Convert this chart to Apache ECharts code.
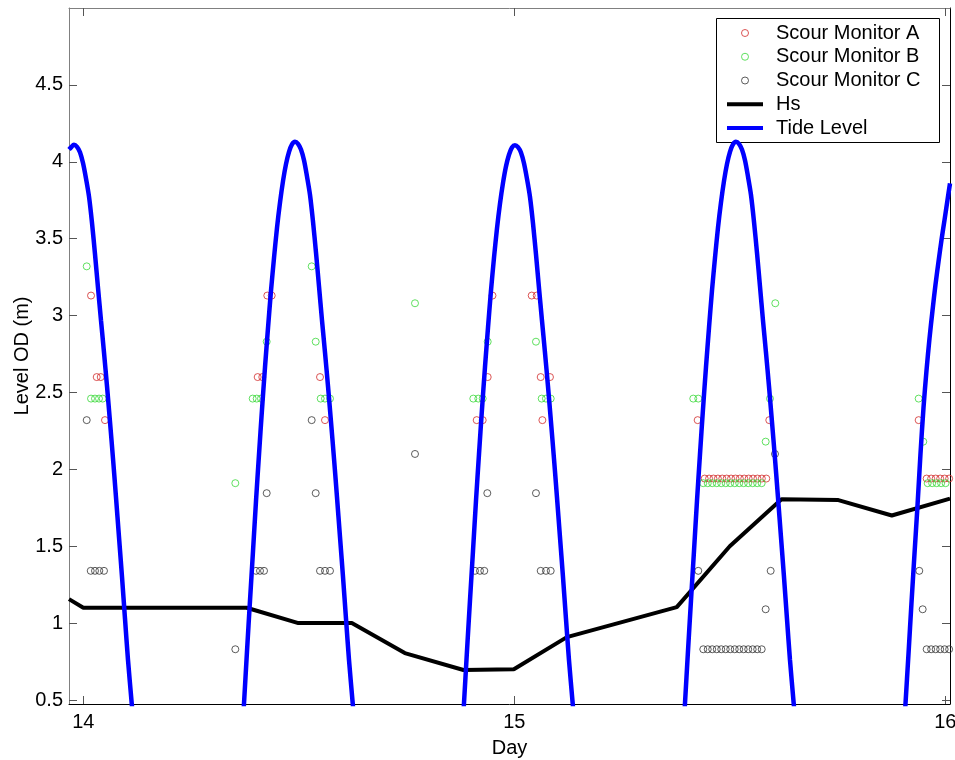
<!DOCTYPE html>
<html><head><meta charset="utf-8">
<script src="https://cdn.jsdelivr.net/npm/echarts@6/dist/echarts.min.js"></script>
<style>html,body{margin:0;padding:0;background:#fff}#c{width:955px;height:760px}</style>
</head><body><div id="c"></div>
<script>
const xTicks = [14, 15, 16];
const yTicks = [0.5, 1, 1.5, 2, 2.5, 3, 3.5, 4, 4.5];
const legendNames = ['Scour Monitor A', 'Scour Monitor B', 'Scour Monitor C', 'Hs', 'Tide Level'];

const monitorA = [
  [14.0179,3.13],[14.0311,2.60],[14.0404,2.60],[14.0503,2.32],
  [14.4046,2.60],[14.4153,2.60],[14.4269,3.13],[14.4371,3.13],[14.5492,2.60],[14.5608,2.32],
  [14.9128,2.32],[14.9267,2.32],[14.9383,2.60],[14.9494,3.13],[15.0404,3.13],[15.0520,3.13],
  [15.0613,2.60],[15.0828,2.60],[15.0652,2.32],
  [15.4255,2.32],[15.5917,2.32],
  [15.4418,1.94],[15.4520,1.94],[15.4622,1.94],[15.4724,1.94],[15.4826,1.94],[15.4928,1.94],
  [15.5030,1.94],[15.5132,1.94],[15.5234,1.94],[15.5336,1.94],[15.5438,1.94],[15.5540,1.94],
  [15.5642,1.94],[15.5744,1.94],[15.5847,1.94],
  [15.9383,2.32],
  [15.9568,1.94],[15.9673,1.94],[15.9777,1.94],[15.9882,1.94],[15.9986,1.94],[16.0090,1.94]
];
const monitorB = [
  [14.0079,3.32],[14.0179,2.46],[14.0271,2.46],[14.0364,2.46],[14.0450,2.46],
  [14.3527,1.91],[14.3930,2.46],[14.4023,2.46],[14.4123,2.46],[14.4255,2.83],
  [14.5299,3.32],[14.5392,2.83],[14.5508,2.46],[14.5608,2.46],[14.5724,2.46],
  [14.7696,3.08],
  [14.9049,2.46],[14.9165,2.46],[14.9267,2.46],[14.9383,2.83],[15.0503,2.83],
  [15.0636,2.46],[15.0735,2.46],[15.0845,2.46],
  [15.4153,2.46],[15.4269,2.46],[15.5933,2.46],[15.5833,2.18],[15.6056,3.08],
  [15.4385,1.91],[15.4489,1.91],[15.4593,1.91],[15.4698,1.91],[15.4802,1.91],[15.4906,1.91],
  [15.5010,1.91],[15.5115,1.91],[15.5219,1.91],[15.5323,1.91],[15.5427,1.91],[15.5531,1.91],
  [15.5636,1.91],[15.5740,1.91],
  [15.9383,2.46],[15.9490,2.18],
  [15.9592,1.91],[15.9696,1.91],[15.9800,1.91],[15.9904,1.91],[16.0008,1.91]
];
const monitorC = [
  [14.0079,2.32],[14.0172,1.34],[14.0271,1.34],[14.0371,1.34],[14.0480,1.34],
  [14.3527,0.83],[14.4007,1.34],[14.4100,1.34],[14.4193,1.34],[14.4255,1.845],
  [14.5299,2.32],[14.5392,1.845],[14.5492,1.34],[14.5608,1.34],[14.5724,1.34],
  [14.7696,2.10],
  [14.9088,1.34],[14.9204,1.34],[14.9304,1.34],[14.9374,1.845],[15.0503,1.845],
  [15.0613,1.34],[15.0735,1.34],[15.0845,1.34],
  [15.4269,1.34],[15.5949,1.34],[15.5833,1.09],[15.6049,2.10],
  [15.4385,0.83],[15.4489,0.83],[15.4593,0.83],[15.4698,0.83],[15.4802,0.83],[15.4906,0.83],
  [15.5011,0.83],[15.5115,0.83],[15.5219,0.83],[15.5323,0.83],[15.5428,0.83],[15.5532,0.83],
  [15.5636,0.83],[15.5741,0.83],
  [15.9397,1.34],[15.9476,1.09],
  [15.9568,0.83],[15.9673,0.83],[15.9777,0.83],[15.9882,0.83],[15.9986,0.83],[16.0090,0.83]
];
const hsLine = [
  [13.9668,1.156],[14.000,1.10],[14.379,1.10],[14.499,1.00],[14.623,1.00],[14.746,0.805],
  [14.882,0.695],[14.999,0.70],[15.122,0.909],[15.377,1.104],[15.500,1.50],[15.620,1.806],
  [15.752,1.80],[15.876,1.70],[16.011,1.81]
];
const tideArch1 = [
  [13.9668,4.08],[13.9714,4.093],[13.9784,4.11],[13.9854,4.097],[13.9923,4.062],[13.9993,3.992],
  [14.0062,3.892],[14.0132,3.774],[14.0202,3.602],[14.0271,3.40],[14.0341,3.18],[14.0410,2.97],
  [14.0480,2.76],[14.0550,2.54],[14.0619,2.31],[14.0689,2.07],[14.0758,1.82],[14.0828,1.56],
  [14.0898,1.30],[14.0967,1.03],[14.1037,0.76],[14.1123,0.479],[14.1178,0.30]
];
const tideArch2 = [
  [14.3692,0.30],[14.3729,0.479],[14.3798,0.816],[14.3868,1.147],[14.3938,1.47],[14.4007,1.793],
  [14.4077,2.098],[14.4146,2.388],[14.4216,2.664],[14.4286,2.921],[14.4355,3.161],[14.4425,3.375],
  [14.4494,3.57],[14.4564,3.735],[14.4634,3.875],[14.4703,3.985],[14.4773,4.065],[14.4842,4.113],
  [14.4912,4.13],[14.4982,4.117],[14.5051,4.08],[14.5121,4.01],[14.5190,3.905],[14.5260,3.785],
  [14.5330,3.61],[14.5399,3.41],[14.5469,3.19],[14.5538,2.97],[14.5608,2.76],[14.5678,2.54],
  [14.5747,2.31],[14.5817,2.07],[14.5886,1.82],[14.5956,1.56],[14.6026,1.30],[14.6095,1.03],
  [14.6165,0.76],[14.6251,0.479],[14.6306,0.30]
];
const tideArch3 = [
  [14.8796,0.30],[14.8833,0.479],[14.8902,0.816],[14.8972,1.147],[14.9042,1.47],[14.9111,1.793],
  [14.9181,2.098],[14.9250,2.388],[14.9320,2.664],[14.9390,2.921],[14.9459,3.161],[14.9529,3.375],
  [14.9598,3.564],[14.9668,3.727],[14.9738,3.862],[14.9807,3.969],[14.9877,4.046],[14.9946,4.093],
  [15.0016,4.108],[15.0086,4.095],[15.0155,4.06],[15.0225,3.99],[15.0294,3.89],[15.0364,3.772],
  [15.0434,3.60],[15.0503,3.40],[15.0573,3.18],[15.0642,2.97],[15.0712,2.76],[15.0782,2.54],
  [15.0851,2.31],[15.0921,2.07],[15.0990,1.82],[15.1060,1.56],[15.1130,1.30],[15.1199,1.03],
  [15.1269,0.76],[15.1355,0.479],[15.1410,0.30]
];
const tideArch4 = [
  [15.3924,0.30],[15.3961,0.479],[15.4030,0.816],[15.4100,1.147],[15.4170,1.47],[15.4239,1.793],
  [15.4309,2.098],[15.4378,2.388],[15.4448,2.664],[15.4518,2.921],[15.4587,3.161],[15.4657,3.375],
  [15.4726,3.57],[15.4796,3.735],[15.4866,3.875],[15.4935,3.985],[15.5005,4.065],[15.5074,4.113],
  [15.5144,4.13],[15.5214,4.117],[15.5283,4.08],[15.5353,4.01],[15.5422,3.905],[15.5492,3.785],
  [15.5562,3.61],[15.5631,3.41],[15.5701,3.19],[15.5770,2.97],[15.5840,2.76],[15.5910,2.54],
  [15.5979,2.31],[15.6049,2.07],[15.6118,1.82],[15.6188,1.56],[15.6258,1.30],[15.6327,1.03],
  [15.6397,0.76],[15.6483,0.479],[15.6538,0.30]
];
const tideArch5 = [
  [15.9040,0.30],[15.9077,0.474],[15.9147,0.80],[15.9216,1.13],[15.9286,1.45],[15.9355,1.76],
  [15.9425,2.10],[15.9495,2.40],[15.9564,2.64],[15.9634,2.85],[15.9703,3.03],[15.9773,3.20],
  [15.9843,3.35],[15.9912,3.49],[15.9982,3.62],[16.0051,3.75],[16.0110,3.86]
];

const FONT = '"Liberation Sans", Arial, Helvetica, sans-serif';
const X_MIN = 13.9668, X_MAX = 16.011, Y_MIN = 0.474, Y_MAX = 5.0;
const LINE_ICON = 'path://M0 0H36V4H0Z';

function scatterSeries(name, data, color) {
  return {
    type: 'scatter', name: name, data: data, symbol: 'circle', symbolSize: 7,
    itemStyle: { color: 'rgba(0,0,0,0)', borderColor: color, borderWidth: 1 },
    z: 2, silent: true, emphasis: { disabled: true }
  };
}
function tideSeries(data) {
  return {
    type: 'line', name: 'Tide Level', data: data, showSymbol: false, symbol: 'none',
    smooth: 0.3, lineStyle: { color: '#0000ff', width: 4.5 }, itemStyle: { color: '#0000ff' },
    z: 4, silent: true, clip: true, emphasis: { disabled: true }
  };
}

const chart = echarts.init(document.getElementById('c'), null, { renderer: 'canvas' });
chart.setOption({
  animation: false,
  backgroundColor: '#ffffff',
  grid: { left: 69, right: 5, top: 8, bottom: 56, containLabel: false, outerBoundsMode: 'none' },
  xAxis: [{
    type: 'value', min: X_MIN, max: X_MAX, position: 'bottom',
    axisLine: { show: true, onZero: false, lineStyle: { color: '#000', width: 1 } },
    axisTick: { show: true, inside: true, length: 8, customValues: xTicks, lineStyle: { color: '#555' } },
    axisLabel: { show: true, customValues: xTicks, fontSize: 20, color: '#000', margin: 8, fontFamily: FONT },
    splitLine: { show: false },
    name: 'Day', nameLocation: 'middle', nameGap: 34, nameMoveOverlap: false,
    nameTextStyle: { fontSize: 20, color: '#000', fontFamily: FONT }
  }, {
    type: 'value', min: X_MIN, max: X_MAX, position: 'top',
    axisLine: { show: true, onZero: false, lineStyle: { color: '#808080', width: 1 } },
    axisTick: { show: true, inside: true, length: 8, customValues: xTicks, lineStyle: { color: '#555' } },
    axisLabel: { show: false }, splitLine: { show: false }
  }],
  yAxis: [{
    type: 'value', min: Y_MIN, max: Y_MAX, position: 'left',
    axisLine: { show: true, onZero: false, lineStyle: { color: '#808080', width: 1 } },
    axisTick: { show: true, inside: true, length: 8, customValues: yTicks, lineStyle: { color: '#555' } },
    axisLabel: { show: true, customValues: yTicks, fontSize: 20, color: '#000', margin: 6, fontFamily: FONT },
    splitLine: { show: false },
    name: 'Level OD (m)', nameLocation: 'middle', nameGap: 37, nameMoveOverlap: false,
    nameTextStyle: { fontSize: 20, color: '#000', fontFamily: FONT }
  }, {
    type: 'value', min: Y_MIN, max: Y_MAX, position: 'right',
    axisLine: { show: true, onZero: false, lineStyle: { color: '#000', width: 1 } },
    axisTick: { show: true, inside: true, length: 8, customValues: yTicks, lineStyle: { color: '#555' } },
    axisLabel: { show: false }, splitLine: { show: false }
  }],
  legend: {
    data: [
      { name: legendNames[0] },
      { name: legendNames[1] },
      { name: legendNames[2] },
      { name: legendNames[3], icon: LINE_ICON, itemStyle: { color: '#000', borderWidth: 0 } },
      { name: legendNames[4], icon: LINE_ICON, itemStyle: { color: '#0000ff', borderWidth: 0 } }
    ],
    orient: 'vertical', left: 727, top: 23,
    itemWidth: 36, itemHeight: 7, itemGap: 3.75, padding: 0,
    selectedMode: false, z: 10,
    itemStyle: { borderWidth: 1 },
    textStyle: { fontSize: 20, color: '#000', fontFamily: FONT, lineHeight: 20, padding: [0, 0, 0, 8] }
  },
  graphic: [{
    type: 'rect', z: 3,
    shape: { x: 716.5, y: 18.5, width: 223, height: 124 },
    style: { fill: '#fff', stroke: '#000', lineWidth: 1 }
  }],
  series: [
    scatterSeries('Scour Monitor A', monitorA, '#d22c2c'),
    scatterSeries('Scour Monitor B', monitorB, '#3ad83a'),
    scatterSeries('Scour Monitor C', monitorC, '#333333'),
    {
      type: 'line', name: 'Hs', data: hsLine, showSymbol: false, symbol: 'none',
      lineStyle: { color: '#000', width: 4 }, itemStyle: { color: '#000' },
      z: 3, silent: true, clip: true, emphasis: { disabled: true }
    },
    tideSeries(tideArch1), tideSeries(tideArch2), tideSeries(tideArch3),
    tideSeries(tideArch4), tideSeries(tideArch5)
  ]
});
</script>
</body></html>
